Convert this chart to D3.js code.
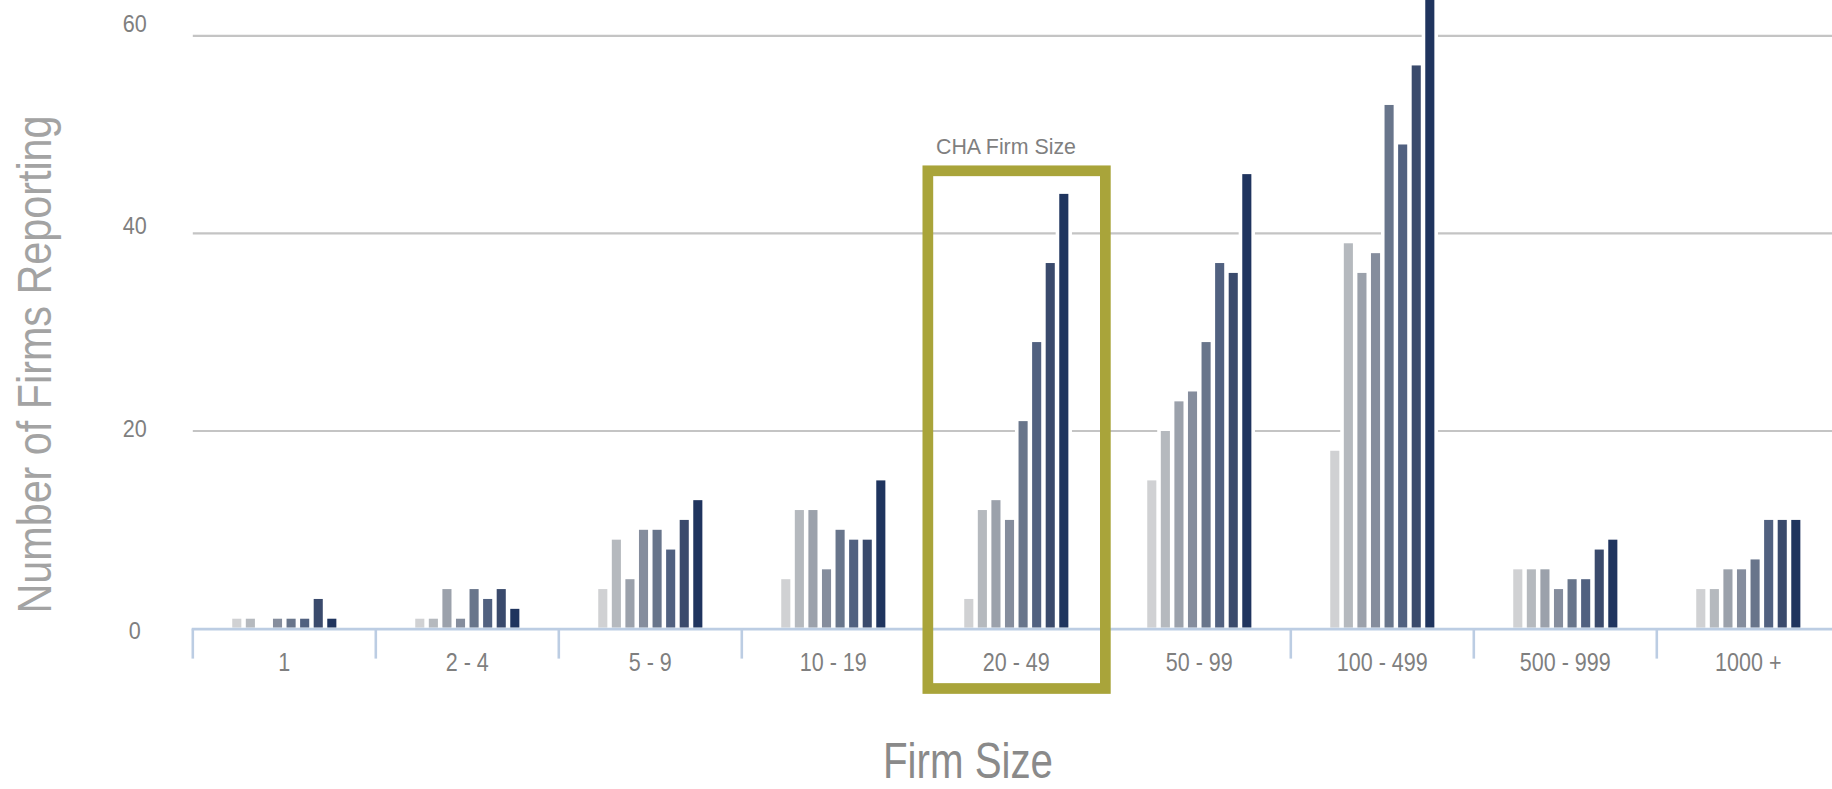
<!DOCTYPE html>
<html>
<head>
<meta charset="utf-8">
<script src="https://cdn.jsdelivr.net/npm/d3@7"></script>
<style>
  html, body { margin: 0; padding: 0; background: #ffffff; overflow: hidden; }
  svg { display: block; font-family: "Liberation Sans", Arial, sans-serif; }
</style>
</head>
<body>
<svg id="chart" width="1832" height="789"></svg>
<script>
// ---------------- data ----------------
const categories = ["1", "2 - 4", "5 - 9", "10 - 19", "20 - 49", "50 - 99", "100 - 499", "500 - 999", "1000 +"];
const seriesNames = ["Series 1", "Series 2", "Series 3", "Series 4", "Series 5", "Series 6", "Series 7", "Series 8"];
const series1 = [1, 1, 4, 5, 3, 15, 18, 6, 4];
const series2 = [1, 1, 9, 12, 12, 20, 39, 6, 4];
const series3 = [0, 4, 5, 12, 13, 23, 36, 6, 6];
const series4 = [1, 1, 10, 6, 11, 24, 38, 4, 6];
const series5 = [1, 4, 10, 10, 21, 29, 53, 5, 7];
const series6 = [1, 3, 8, 9, 29, 37, 49, 5, 11];
const series7 = [3, 4, 11, 9, 37, 36, 57, 8, 11];
const series8 = [1, 2, 13, 15, 44, 46, 66, 9, 11];
const seriesColors = ["#d0d1d3", "#b5b9be", "#9ba1ab", "#858d9d", "#68758b", "#516180", "#3a4a6c", "#1f345e"];
const yTicks = [0, 20, 40, 60];
const highlightCategory = "20 - 49";
const highlightLabel = "CHA Firm Size";
const yTitle = "Number of Firms Reporting";
const xTitle = "Firm Size";

const allSeries = [series1, series2, series3, series4, series5, series6, series7, series8];

// ---------------- layout ----------------
const svg = d3.select("#chart");
const W = 1832, H = 789;
const plotLeft = 192.8, bandW = 183;
const baseY = 628.6, topY = 35.8;

const x0 = d3.scaleBand().domain(categories)
  .range([plotLeft, plotLeft + bandW * categories.length]).padding(0);
const groupW = 108.6;
const x1 = d3.scaleBand().domain(seriesNames)
  .range([x0.bandwidth() / 2 - groupW / 2, x0.bandwidth() / 2 + groupW / 2])
  .paddingInner(0.33).paddingOuter(0.165);
const y = d3.scaleLinear().domain([0, 60]).range([baseY, topY]);
// tick label placement (labels sit on a slightly different spacing than the gridlines)
const yLabel = d3.scaleLinear().domain([0, 60]).range([630, 23.7]);

function squeeze(sel, k) {
  sel.each(function () {
    const n = this.getComputedTextLength();
    d3.select(this).attr("textLength", n * k).attr("lengthAdjust", "spacingAndGlyphs");
  });
}

// gridlines
svg.append("g").selectAll("line").data(yTicks.filter(d => d > 0)).join("line")
  .attr("x1", plotLeft).attr("x2", W)
  .attr("y1", d => y(d)).attr("y2", d => y(d))
  .attr("stroke", "#c4c4c4").attr("stroke-width", 2.2);

// y tick labels
const yl = svg.append("g").selectAll("text").data(yTicks).join("text")
  .attr("x", 134.8).attr("y", d => yLabel(d) + 8.6)
  .attr("text-anchor", "middle")
  .attr("font-size", 24).attr("fill", "#7f7f7f")
  .text(d => d);
squeeze(yl, 0.9);

// flatten bar data
const barData = [];
categories.forEach((c, ci) => {
  allSeries.forEach((s, si) => {
    barData.push({ cat: c, name: seriesNames[si], value: s[ci], color: seriesColors[si] });
  });
});

const groups = svg.append("g");
// white halos (bar borders hiding the gridlines)
groups.selectAll("rect.halo").data(barData.filter(d => d.value > 0)).join("rect")
  .attr("class", "halo")
  .attr("x", d => x0(d.cat) + x1(d.name) - 3.6)
  .attr("width", x1.bandwidth() + 7.2)
  .attr("y", d => y(d.value) - 3)
  .attr("height", d => baseY - y(d.value) + 3)
  .attr("fill", "#ffffff");
groups.selectAll("rect.bar").data(barData.filter(d => d.value > 0)).join("rect")
  .attr("class", "bar")
  .attr("x", d => x0(d.cat) + x1(d.name))
  .attr("width", x1.bandwidth())
  .attr("y", d => y(d.value))
  .attr("height", d => baseY - y(d.value) - 1)
  .attr("fill", d => d.color);

// x axis line and separators
const axisColor = "#bccde3";
svg.append("line")
  .attr("x1", plotLeft - 1).attr("x2", W)
  .attr("y1", baseY + 0.5).attr("y2", baseY + 0.5)
  .attr("stroke", axisColor).attr("stroke-width", 2.6);
const bounds = categories.map(c => x0(c));
svg.append("g").selectAll("line").data(bounds).join("line")
  .attr("x1", d => d).attr("x2", d => d)
  .attr("y1", baseY).attr("y2", baseY + 30)
  .attr("stroke", axisColor).attr("stroke-width", 2.6);

// category labels
const cl = svg.append("g").selectAll("text").data(categories).join("text")
  .attr("x", d => x0(d) + x0.bandwidth() / 2)
  .attr("y", 671)
  .attr("text-anchor", "middle")
  .attr("font-size", 25).attr("fill", "#7f7f7f")
  .text(d => d);
squeeze(cl, 0.86);

// highlight box
const hc = x0(highlightCategory) + x0.bandwidth() / 2 + 0.3;
svg.append("rect")
  .attr("x", hc - 88.75).attr("width", 177.5)
  .attr("y", 170.8).attr("height", 688.5 - 170.8)
  .attr("fill", "none").attr("stroke", "#a9a43a").attr("stroke-width", 10.7);
svg.append("text")
  .attr("x", hc - 10.6).attr("y", 154.3)
  .attr("text-anchor", "middle")
  .attr("font-size", 22).attr("fill", "#7f7f7f")
  .attr("textLength", 140).attr("lengthAdjust", "spacingAndGlyphs")
  .text(highlightLabel);

// axis titles
svg.append("text")
  .attr("transform", "translate(51,364.5) rotate(-90)")
  .attr("text-anchor", "middle")
  .attr("font-size", 48).attr("fill", "#a3a3a3")
  .attr("textLength", 498).attr("lengthAdjust", "spacingAndGlyphs")
  .text(yTitle);
svg.append("text")
  .attr("x", 968).attr("y", 778)
  .attr("text-anchor", "middle")
  .attr("font-size", 50).attr("fill", "#8a8a8a")
  .attr("textLength", 170).attr("lengthAdjust", "spacingAndGlyphs")
  .text(xTitle);
</script>
</body>
</html>
